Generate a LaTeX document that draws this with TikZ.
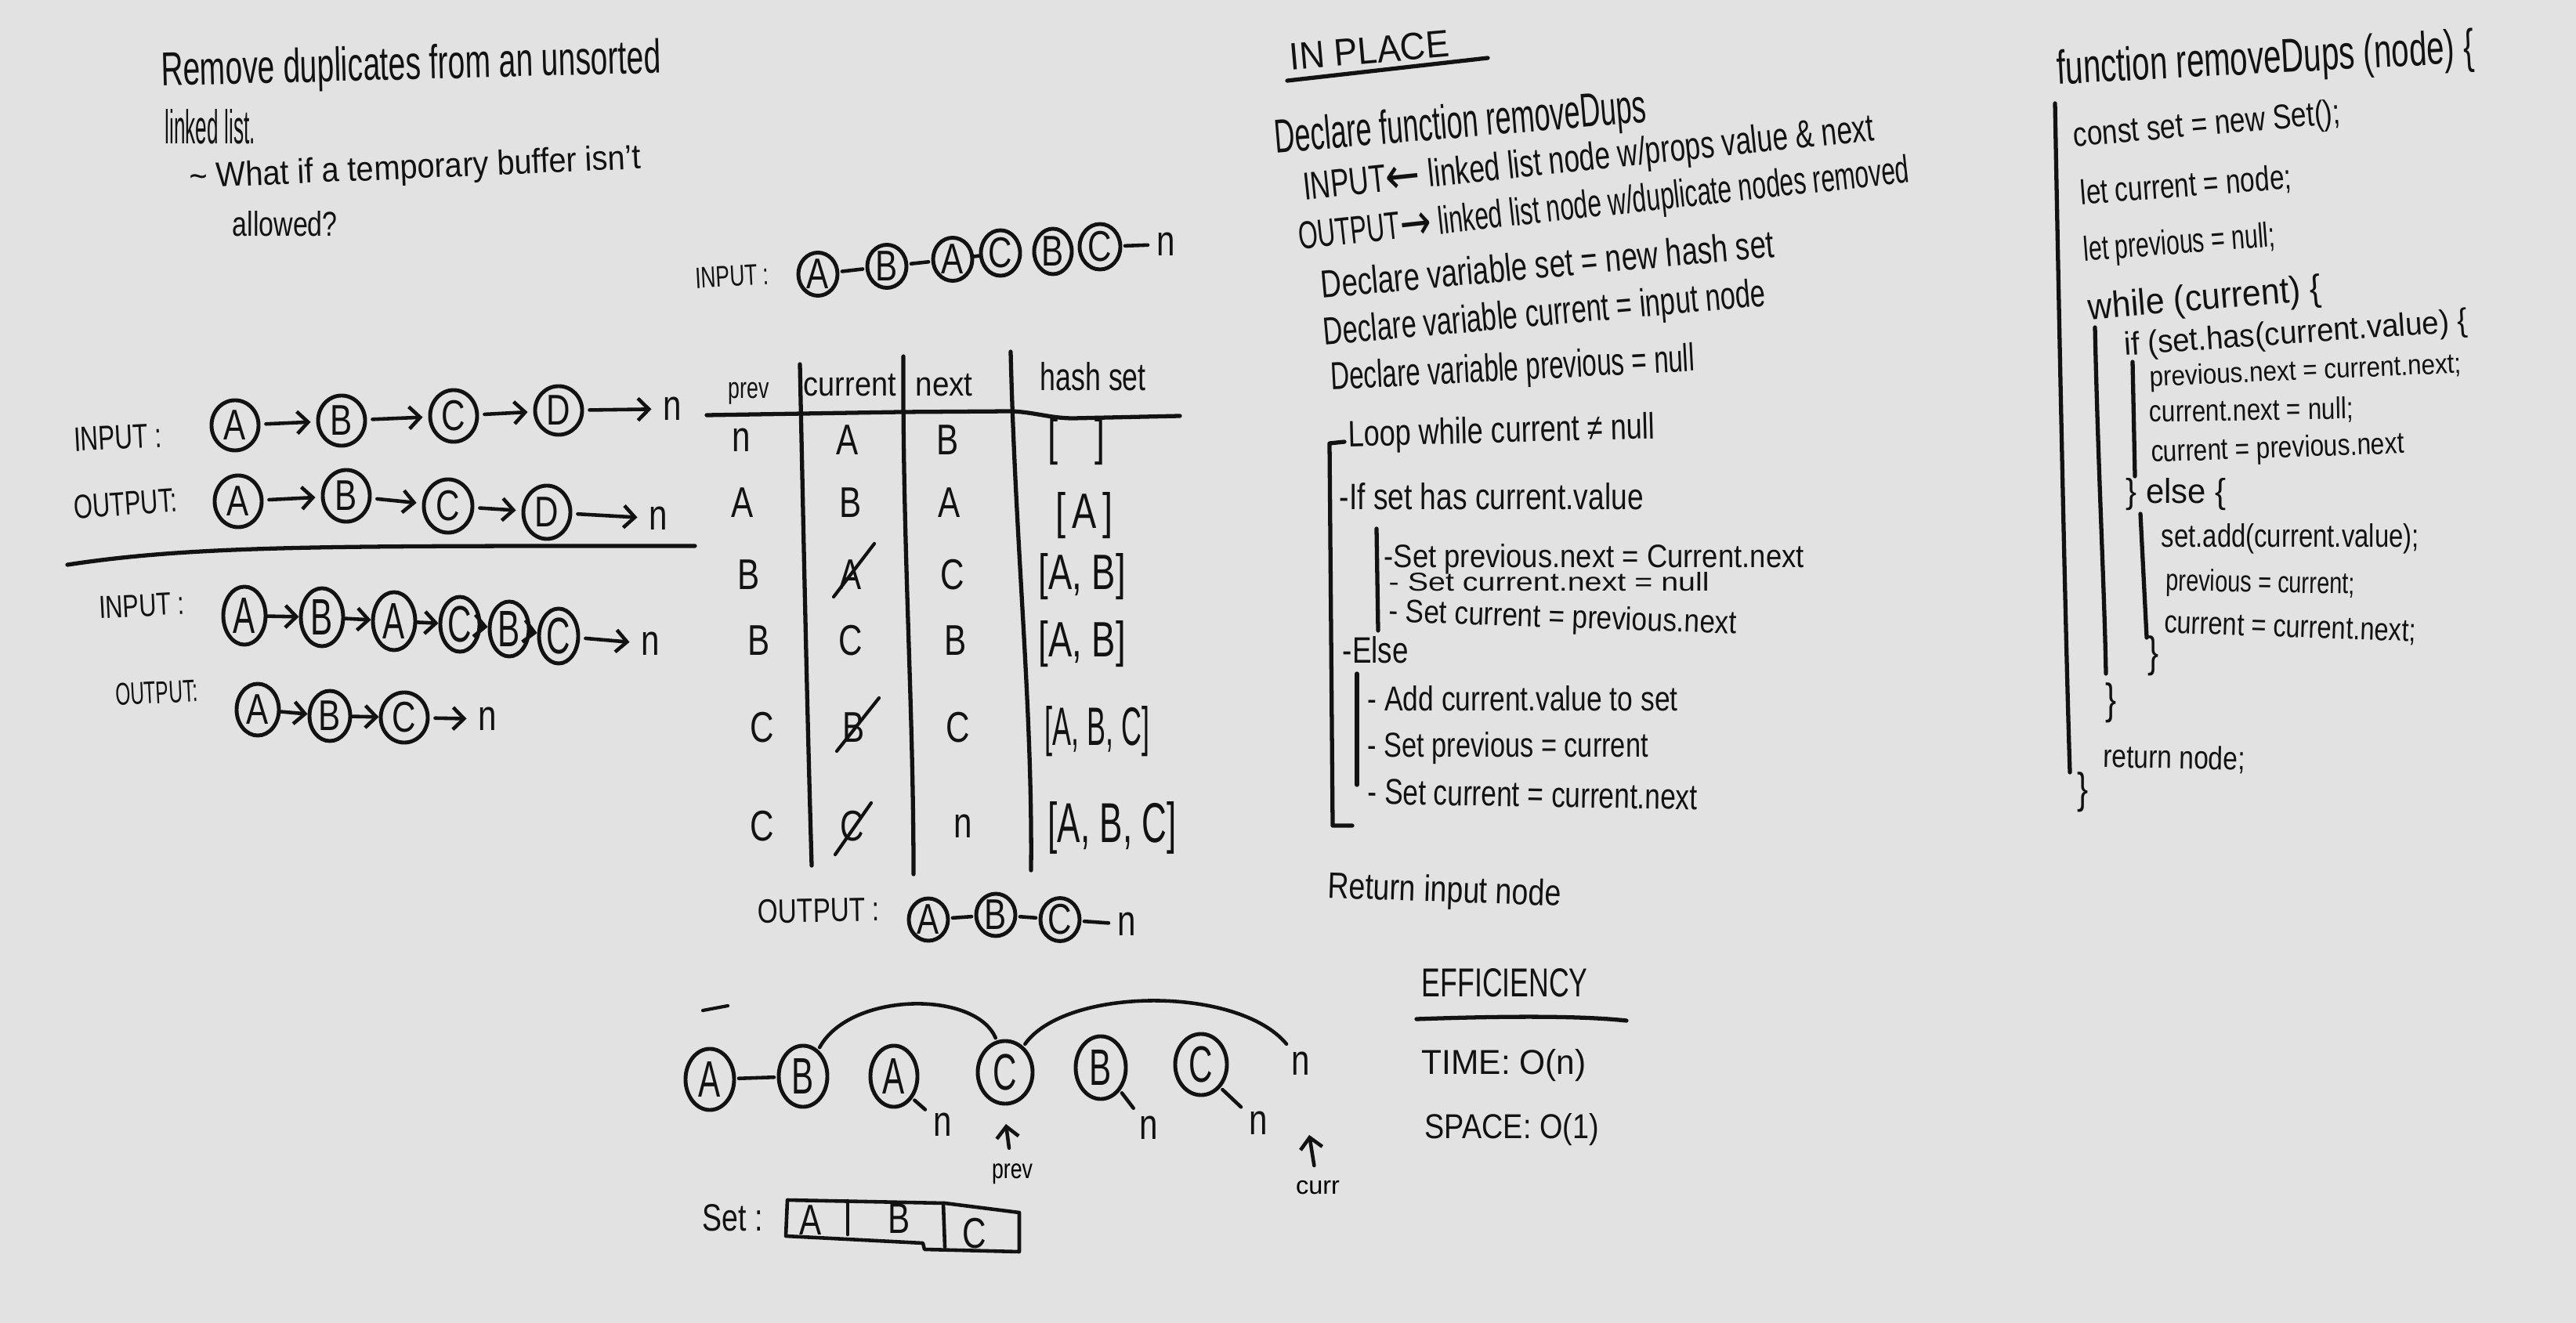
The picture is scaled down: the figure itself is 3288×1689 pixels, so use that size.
\documentclass[tikz,border=0pt]{standalone}
\usepackage{fontspec}
\setmainfont{Liberation Sans}
\newfontfamily\dvsans{DejaVu Sans}
\usepackage{graphicx}
\usetikzlibrary{shapes.geometric,arrows.meta}
\definecolor{bgc}{RGB}{226,226,226}
\definecolor{ink}{RGB}{18,18,18}
\newdimen\pxu \pxu=0.01cm
% #1 width, #2 ascender height (in picture pixels), #3 text
\newcommand\hw[3]{\resizebox{#1\pxu}{#2\pxu}{\vphantom{Hg}#3}}
\newcommand\lt[1]{\scalebox{1}[1.3]{#1}}
\newcommand\ltt[1]{\scalebox{1}[1.55]{#1}}
\newcommand\bigarr[1]{\raisebox{-0.15ex}{\scalebox{1.5}[1.3]{\dvsans #1}}}
\begin{document}
\begin{tikzpicture}[x=0.01cm,y=-0.01cm,line cap=round,line join=round,
  txt/.style={anchor=west,inner sep=0pt,text=ink},
  lbl/.style={inner sep=2pt,text=ink,font=\fontsize{12}{14}\selectfont},
  cir/.style={ellipse,draw=ink,line width=1.4pt,inner sep=0pt,text=ink,font=\fontsize{12}{14}\selectfont},
  arr/.style={draw=ink,line width=1.3pt,-{Straight Barb[length=4pt,width=8pt]},shorten >=2pt,shorten <=2pt},
  lnk/.style={draw=ink,line width=1.3pt,shorten >=1pt,shorten <=1pt},
  rule/.style={draw=ink,line width=1.5pt}]
\fill[bgc] (0,0) rectangle (3288,1689);
\useasboundingbox (0,0) rectangle (3288,1689);

% ---------- title ----------
\node[txt,rotate=1.5] (t1) at (205,94) {\hw{638}{44}{Remove duplicates from an unsorted}};
\node[txt] (t2) at (210,168) {\hw{115}{44}{linked list.}};
\node[txt,rotate=2.5] (t3) at (241,229) {\hw{577}{32}{\textasciitilde\ What if a temporary buffer isn't}};
\node[txt] (t4) at (296,290) {\hw{134}{32}{allowed?}};

% ---------- example 1 ----------
\node[txt,rotate=3] (in1) at (94,566) {\hw{112}{30}{INPUT :}};
\node[cir,minimum width=0.6cm,minimum height=0.64cm] (r1a) at (300,543) {\lt{A}};
\node[cir,minimum width=0.6cm,minimum height=0.64cm] (r1b) at (436,537) {\lt{B}};
\node[cir,minimum width=0.6cm,minimum height=0.66cm] (r1c) at (579,531) {\lt{C}};
\node[cir,minimum width=0.6cm,minimum height=0.62cm] (r1d) at (713,524) {\lt{D}};
\node[lbl] (r1n) at (858,522) {\lt{n}};
\draw[arr] (r1a) -- (r1b);
\draw[arr] (r1b) -- (r1c);
\draw[arr] (r1c) -- (r1d);
\draw[arr] (r1d) -- (r1n);

\node[txt,rotate=4] (out1) at (94,652) {\hw{132}{30}{OUTPUT:}};
\node[cir,minimum width=0.6cm,minimum height=0.66cm] (r2a) at (304,640) {\lt{A}};
\node[cir,minimum width=0.6cm,minimum height=0.66cm] (r2b) at (442,633) {\lt{B}};
\node[cir,minimum width=0.62cm,minimum height=0.68cm] (r2c) at (572,646) {\lt{C}};
\node[cir,minimum width=0.6cm,minimum height=0.68cm] (r2d) at (698,654) {\lt{D}};
\node[lbl] (r2n) at (840,662) {\lt{n}};
\draw[arr] (r2a) -- (r2b);
\draw[arr] (r2b) -- (r2c);
\draw[arr] (r2c) -- (r2d);
\draw[arr] (r2d) -- (r2n);

\draw[rule] (86,721) .. controls (250,696) and (420,697) .. (887,697);

% ---------- example 2 ----------
\node[txt,rotate=3] (in2) at (126,780) {\hw{109}{28}{INPUT :}};
\node[cir,minimum width=0.54cm,minimum height=0.74cm] (r3a) at (312,786) {\ltt{A}};
\node[cir,minimum width=0.54cm,minimum height=0.74cm] (r3b) at (411,788) {\ltt{B}};
\node[cir,minimum width=0.54cm,minimum height=0.74cm] (r3c) at (503,793) {\ltt{A}};
\node[cir,minimum width=0.5cm,minimum height=0.7cm] (r3d) at (587,797) {\ltt{C}};
\node[cir,minimum width=0.5cm,minimum height=0.7cm] (r3e) at (650,803) {\ltt{B}};
\node[cir,minimum width=0.5cm,minimum height=0.7cm] (r3f) at (713,812) {\ltt{C}};
\node[lbl] (r3n) at (830,822) {\lt{n}};
\draw[arr,shorten >=0pt,shorten <=0pt] (r3a) -- (r3b);
\draw[arr,shorten >=0pt,shorten <=0pt] (r3b) -- (r3c);
\draw[arr,shorten >=0pt,shorten <=0pt] (r3c) -- (r3d);
\draw[arr,shorten >=0pt,shorten <=0pt] (r3d) -- (r3e);
\draw[arr,shorten >=0pt,shorten <=0pt] (r3e) -- (r3f);
\draw[arr] (r3f) -- (r3n);

\node[txt,rotate=3] (out2) at (147,891) {\hw{105}{28}{OUTPUT:}};
\node[cir,minimum width=0.54cm,minimum height=0.66cm] (r4a) at (329,906) {\lt{A}};
\node[cir,minimum width=0.52cm,minimum height=0.64cm] (r4b) at (421,914) {\lt{B}};
\node[cir,minimum width=0.6cm,minimum height=0.64cm] (r4c) at (516,916) {\lt{C}};
\node[lbl] (r4n) at (622,918) {\lt{n}};
\draw[arr,shorten >=0pt,shorten <=0pt] (r4a) -- (r4b);
\draw[arr,shorten >=0pt,shorten <=0pt] (r4b) -- (r4c);
\draw[arr] (r4c) -- (r4n);

% ---------- middle: input ----------
\node[txt,rotate=3] (in3) at (887,359) {\hw{94}{26}{INPUT :}};
\node[cir,minimum width=0.5cm,minimum height=0.55cm] (m1) at (1044,350) {\lt{A}};
\node[cir,minimum width=0.5cm,minimum height=0.55cm] (m2) at (1132,340) {\lt{B}};
\node[cir,minimum width=0.5cm,minimum height=0.55cm] (m3) at (1216,331) {\lt{A}};
\node[cir,minimum width=0.5cm,minimum height=0.58cm] (m4) at (1277,323) {\lt{C}};
\node[cir,minimum width=0.48cm,minimum height=0.58cm] (m5) at (1344,321) {\lt{B}};
\node[cir,minimum width=0.52cm,minimum height=0.58cm] (m6) at (1404,315) {\lt{C}};
\node[lbl] (mn) at (1488,312) {\lt{n}};
\draw[lnk] (m1) -- (m2);
\draw[lnk] (m2) -- (m3);
\draw[lnk,shorten >=0pt,shorten <=0pt] (m3) -- (m4);
\draw[lnk] (m6) -- (mn);

% ---------- middle: table ----------
\node[txt] (hp) at (929,499) {\hw{52}{26}{prev}};
\node[txt] (hc) at (1025,495) {\hw{118}{30}{current}};
\node[txt] (hn) at (1168,495) {\hw{73}{30}{next}};
\node[txt] (hh) at (1327,486) {\hw{135}{36}{hash set}};
\draw[rule] (902,530) -- (1150,526) -- (1290,525) .. controls (1320,526) and (1340,534) .. (1370,534) -- (1506,531);
\draw[rule] (1021,465) .. controls (1026,700) and (1030,900) .. (1036,1105);
\draw[rule] (1153,455) .. controls (1152,700) and (1166,900) .. (1166,1116);
\draw[rule] (1290,449) .. controls (1296,700) and (1318,900) .. (1316,1111);

\node[lbl] (a1) at (946,562) {\lt{n}};
\node[lbl] (b1) at (1082,562) {\lt{A}};
\node[lbl] (c1) at (1210,562) {\lt{B}};
\node[txt] (d1) at (1337,564) {\hw{73}{46}{[\quad]}};
\node[lbl] (a2) at (948,642) {\lt{A}};
\node[lbl] (b2) at (1086,642) {\lt{B}};
\node[lbl] (c2) at (1212,642) {\lt{A}};
\node[txt] (d2) at (1347,658) {\hw{73}{46}{[\,A\,]}};
\node[lbl] (a3) at (956,734) {\lt{B}};
\node[lbl] (b3) at (1086,734) {\lt{A}};
\node[lbl] (c3) at (1216,734) {\lt{C}};
\node[txt] (d3) at (1325,736) {\hw{111}{46}{[A, B]}};
\node[lbl] (a4) at (969,818) {\lt{B}};
\node[lbl] (b4) at (1086,818) {\lt{C}};
\node[lbl] (c4) at (1220,818) {\lt{B}};
\node[txt] (d4) at (1325,822) {\hw{111}{46}{[A, B]}};
\node[lbl] (a5) at (973,929) {\lt{C}};
\node[lbl] (b5) at (1090,929) {\lt{B}};
\node[lbl] (c5) at (1223,929) {\lt{C}};
\node[txt] (d5) at (1333,934) {\hw{134}{50}{[A, B, C]}};
\node[lbl] (a6) at (973,1055) {\lt{C}};
\node[lbl] (b6) at (1088,1055) {\lt{C}};
\node[lbl] (c6) at (1229,1055) {\lt{n}};
\node[txt] (d6) at (1337,1057) {\hw{164}{52}{[A, B, C]}};
\draw[draw=ink,line width=1.2pt] ([shift={(-22,28)}]b3.center) -- ([shift={(30,-40)}]b3.center);
\draw[draw=ink,line width=1.2pt] ([shift={(-22,30)}]b5.center) -- ([shift={(32,-38)}]b5.center);
\draw[draw=ink,line width=1.2pt] ([shift={(-22,36)}]b6.center) -- ([shift={(24,-30)}]b6.center);

% ---------- middle: output ----------
\node[txt,rotate=1] (out3) at (967,1168) {\hw{155}{30}{OUTPUT :}};
\node[cir,minimum width=0.5cm,minimum height=0.54cm] (o1) at (1185,1174) {\lt{A}};
\node[cir,minimum width=0.5cm,minimum height=0.54cm] (o2) at (1271,1168) {\lt{B}};
\node[cir,minimum width=0.5cm,minimum height=0.54cm] (o3) at (1353,1174) {\lt{C}};
\node[lbl] (on) at (1438,1180) {\lt{n}};
\draw[lnk] (o1) -- (o2);
\draw[lnk] (o2) -- (o3);
\draw[lnk] (o3) -- (on);

% ---------- bottom diagram ----------
\draw[draw=ink,line width=1.2pt] (897,1290) -- (929,1284);
\node[cir,minimum width=0.62cm,minimum height=0.78cm] (bA) at (906,1378) {\ltt{A}};
\node[cir,minimum width=0.62cm,minimum height=0.78cm] (bB) at (1025,1374) {\ltt{B}};
\node[cir,minimum width=0.6cm,minimum height=0.78cm] (bA2) at (1141,1374) {\ltt{A}};
\node[cir,minimum width=0.7cm,minimum height=0.8cm] (bC) at (1283,1369) {\ltt{C}};
\node[cir,minimum width=0.64cm,minimum height=0.8cm] (bB2) at (1405,1363) {\ltt{B}};
\node[cir,minimum width=0.66cm,minimum height=0.78cm] (bC2) at (1533,1359) {\ltt{C}};
\node[lbl] (bn) at (1660,1358) {\lt{n}};
\node[lbl] (bn1) at (1203,1436) {\lt{n}};
\node[lbl] (bn2) at (1466,1440) {\lt{n}};
\node[lbl] (bn3) at (1606,1434) {\lt{n}};
\draw[lnk] (bA) -- (bB);
\draw[lnk] (bB.60) .. controls (1085,1266) and (1245,1264) .. (bC.105);
\draw[lnk] (bC.55) .. controls (1360,1260) and (1580,1258) .. (bn.125);
\draw[lnk] (bA2.-50) -- (bn1);
\draw[lnk] (bB2.-50) -- (bn2);
\draw[lnk] (bC2.-50) -- (bn3);
\node[inner sep=2pt] (pv) at (1292,1496) {\hw{52}{24}{prev}};
\coordinate (pvt) at (1283,1428);
\draw[arr] (pv) -- (pvt);
\node[inner sep=2pt] (cu) at (1682,1517) {\hw{56}{22}{curr}};
\coordinate (cut) at (1670,1442);
\draw[arr] (cu) -- (cut);
\node[txt] (setl) at (896,1560) {\hw{77}{34}{Set :}};
\draw[draw=ink,line width=1.3pt] (1005,1532) -- (1206,1536) -- (1301,1548) -- (1301,1598) -- (1180,1595) -- (1178,1587) -- (1003,1578) -- cycle;
\draw[draw=ink,line width=1.3pt] (1082,1533) -- (1082,1576);
\draw[draw=ink,line width=1.3pt] (1204,1536) -- (1206,1592);
\node[lbl] (sa) at (1035,1558) {\lt{A}};
\node[lbl] (sb) at (1148,1556) {\lt{B}};
\node[lbl] (sc) at (1244,1575) {\lt{C}};

% ---------- IN PLACE ----------
\node[txt,rotate=5] (ip) at (1646,78) {\hw{204}{34}{IN PLACE}};
\draw[rule] (1643,103) -- (1899,74);
\node[txt,rotate=4.8] (p1) at (1626,180) {\hw{476}{44}{Declare function removeDups}};
\node[txt,rotate=6] (p2) at (1663,243) {\hw{732}{36}{INPUT\bigarr{←} linked list node w/props value \& next}};
\node[txt,rotate=6.3] (p3) at (1657,306) {\hw{784}{36}{OUTPUT\bigarr{→} linked list node w/duplicate nodes removed}};
\node[txt,rotate=5.2] (p4) at (1686,368) {\hw{580}{36}{Declare variable set = new hash set}};
\node[txt,rotate=5.1] (p5) at (1689,428) {\hw{566}{36}{Declare variable current = input node}};
\node[txt,rotate=3] (p6) at (1698,485) {\hw{465}{36}{Declare variable previous = null}};

\draw[rule] (1716,564) -- (1697,566) -- (1701,1054) -- (1726,1054);
\node[txt,rotate=1.5] (p7) at (1720,558) {\hw{392}{34}{Loop while current ≠ null}};
\node[txt] (p8) at (1709,638) {\hw{388}{34}{-If set has current.value}};
\draw[rule] (1757,675) -- (1759,805);
\node[txt] (p9) at (1766,714) {\hw{536}{30}{-Set previous.next = Current.next}};
\node[txt] (p10) at (1772,746) {\hw{409}{24}{- Set current.next = null}};
\node[txt,rotate=-2] (p11) at (1772,783) {\hw{444}{30}{- Set current = previous.next}};
\node[txt] (p12) at (1713,834) {\hw{84}{34}{-Else}};
\draw[rule] (1732,860) -- (1732,1002);
\node[txt] (p13) at (1745,896) {\hw{396}{32}{- Add current.value to set}};
\node[txt] (p14) at (1745,955) {\hw{358}{32}{- Set previous = current}};
\node[txt,rotate=-1] (p15) at (1745,1015) {\hw{421}{32}{- Set current = current.next}};
\node[txt,rotate=-2] (p16) at (1694,1134) {\hw{298}{34}{Return input node}};

\node[txt] (ef) at (1814,1260) {\hw{212}{36}{EFFICIENCY}};
\draw[rule] (1808,1301) .. controls (1950,1296) and (2030,1298) .. (2076,1303);
\node[txt] (tm) at (1814,1360) {\hw{210}{32}{TIME: O(n)}};
\node[txt] (sp) at (1818,1442) {\hw{222}{32}{SPACE: O(1)}};

% ---------- code ----------
\node[txt,rotate=3] (k1) at (2625,92) {\hw{533}{44}{function removeDups (node) \{}};
\draw[rule] (2623,132) .. controls (2628,400) and (2636,800) .. (2642,986);
\node[txt,rotate=5] (k2) at (2646,176) {\hw{342}{32}{const set = new Set();}};
\node[txt,rotate=4.4] (k3) at (2655,250) {\hw{270}{32}{let current = node;}};
\node[txt,rotate=4.4] (k4) at (2659,322) {\hw{245}{32}{let previous = null;}};
\node[txt,rotate=4.8] (k5) at (2665,396) {\hw{298}{34}{while (current) \{}};
\draw[rule] (2674,418) .. controls (2678,600) and (2686,750) .. (2688,860);
\node[txt,rotate=4] (k6) at (2711,443) {\hw{439}{30}{if (set.has(current.value) \{}};
\draw[rule] (2722,462) -- (2725,608);
\node[txt,rotate=2.5] (k7) at (2743,484) {\hw{398}{26}{previous.next = current.next;}};
\node[txt,rotate=1] (k8) at (2743,529) {\hw{260}{28}{current.next = null;}};
\node[txt,rotate=2] (k9) at (2745,580) {\hw{323}{28}{current = previous.next}};
\node[txt] (k10) at (2713,631) {\hw{128}{32}{\} else \{}};
\draw[rule] (2732,656) -- (2740,814);
\node[txt] (k11) at (2758,688) {\hw{329}{30}{set.add(current.value);}};
\node[txt,rotate=-1] (k12) at (2764,744) {\hw{241}{28}{previous = current;}};
\node[txt,rotate=-2] (k13) at (2762,798) {\hw{321}{28}{current = current.next;}};
\node[lbl] (k14) at (2749,837) {\lt{\}}};
\node[lbl] (k15) at (2695,897) {\lt{\}}};
\node[txt,rotate=-1] (k16) at (2684,969) {\hw{181}{30}{return node;}};
\node[lbl] (k17) at (2659,1011) {\lt{\}}};
\end{tikzpicture}
\end{document}
